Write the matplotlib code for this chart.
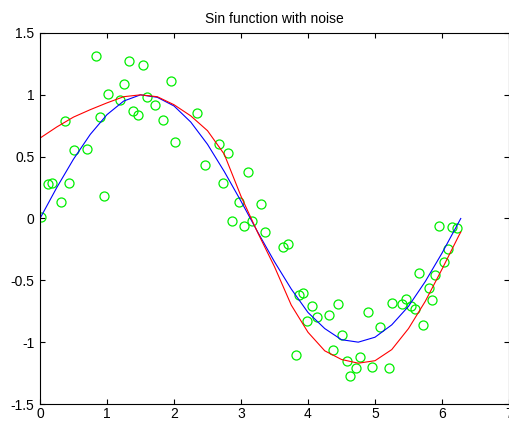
import matplotlib
matplotlib.use("Agg")
import matplotlib.pyplot as plt

plt.rcParams['font.family'] = ['Liberation Sans', 'DejaVu Sans']

# noisy samples
x_noise = [0.01, 0.12, 0.18, 0.31, 0.38, 0.44, 0.51, 0.70, 0.83, 0.89,
           0.96, 1.01, 1.19, 1.26, 1.33, 1.39, 1.46, 1.53, 1.59, 1.71,
           1.84, 1.96, 2.02, 2.35, 2.47, 2.67, 2.73, 2.80, 2.86, 2.97,
           3.04, 3.10, 3.17, 3.30, 3.36, 3.62, 3.70, 3.82, 3.87, 3.93,
           3.99, 4.06, 4.13, 4.32, 4.38, 4.45, 4.51, 4.58, 4.63, 4.71,
           4.77, 4.90, 4.95, 5.07, 5.21, 5.25, 5.40, 5.47, 5.54, 5.60,
           5.66, 5.72, 5.80, 5.85, 5.90, 5.96, 6.03, 6.09, 6.15, 6.23]
y_noise = [0.01, 0.28, 0.29, 0.13, 0.79, 0.29, 0.55, 0.56, 1.31, 0.82,
           0.18, 1.01, 0.96, 1.09, 1.27, 0.87, 0.84, 1.24, 0.98, 0.92,
           0.80, 1.11, 0.62, 0.85, 0.43, 0.60, 0.29, 0.53, -0.02, 0.13,
           -0.06, 0.38, -0.02, 0.12, -0.11, -0.23, -0.21, -1.10, -0.62, -0.60,
           -0.83, -0.71, -0.80, -0.78, -1.06, -0.69, -0.94, -1.15, -1.27, -1.21,
           -1.12, -0.76, -1.20, -0.88, -1.21, -0.68, -0.69, -0.65, -0.71, -0.73,
           -0.44, -0.86, -0.56, -0.66, -0.46, -0.06, -0.35, -0.25, -0.07, -0.08]

# curves
x_curve = [0, 0.25, 0.5, 0.75, 1.0, 1.25, 1.5, 1.75, 2.0, 2.25, 2.5, 2.75, 3.0,
           3.25, 3.5, 3.75, 4.0, 4.25, 4.5, 4.75, 5.0, 5.25, 5.5, 5.75, 6.0,
           6.25, 6.28]
y_sin = [0.0, 0.25, 0.48, 0.68, 0.84, 0.95, 1.0, 0.98, 0.91, 0.78, 0.60, 0.38,
         0.14, -0.11, -0.35, -0.57, -0.76, -0.89, -0.98, -1.0, -0.96, -0.86,
         -0.71, -0.51, -0.28, -0.03, 0.0]
y_fit = [0.65, 0.74, 0.82, 0.88, 0.935, 0.985, 1.0, 0.985, 0.92, 0.83, 0.71,
         0.52, 0.18, -0.115, -0.39, -0.70, -0.92, -1.07, -1.14, -1.17, -1.15,
         -1.06, -0.89, -0.67, -0.41, -0.14, -0.11]

xticks = [0, 1, 2, 3, 4, 5, 6, 7]
yticks = [-1.5, -1, -0.5, 0, 0.5, 1, 1.5]
ytick_labels = ['-1.5', '-1', '-0.5', '0', '0.5', '1', '1.5']

fig = plt.figure(figsize=(5.10, 4.21), dpi=100)
ax = fig.add_axes([40 / 510, 17 / 421, 469 / 510, 371 / 421])

ax.plot(x_noise, y_noise, 'o', markerfacecolor='none', markeredgecolor='#00ee00',
        markersize=6.5, markeredgewidth=0.9)
ax.plot(x_curve, y_sin, color='#0000ff', linewidth=0.8)
ax.plot(x_curve, y_fit, color='#ff0000', linewidth=0.8)

ax.set_xlim(0, 7)
ax.set_ylim(-1.5, 1.5)
ax.set_xticks(xticks)
ax.set_yticks(yticks)
ax.set_yticklabels(ytick_labels)
ax.tick_params(direction='in', top=True, right=True, length=3.5, width=0.8,
               labelsize=10, colors='black')
ax.tick_params(axis='x', pad=2.5)
ax.tick_params(axis='y', pad=4)
for s in ax.spines.values():
    s.set_linewidth(0.8)
ax.set_title('Sin function with noise', fontsize=10, pad=7)

fig.savefig('out.png', dpi=100)
